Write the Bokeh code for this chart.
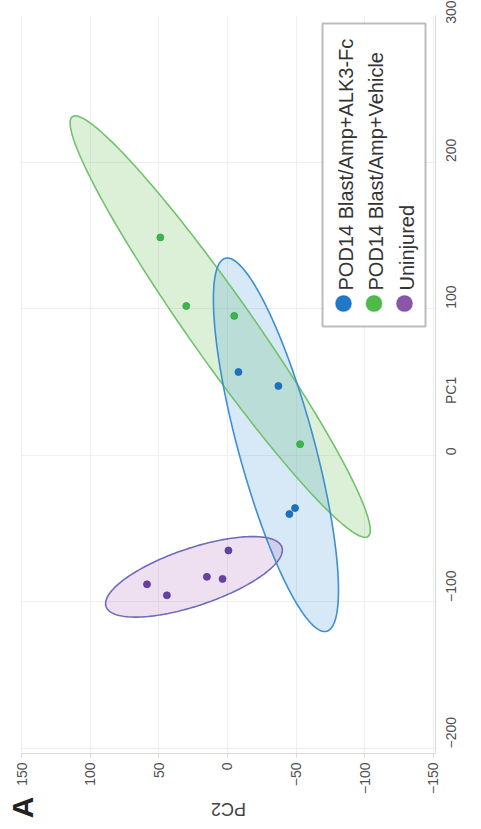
import math
import numpy as np
from bokeh.plotting import figure
from bokeh.layouts import column
from bokeh.models import Range1d, Label, BoxAnnotation, FixedTicker
from bokeh.embed import file_html
from bokeh.resources import INLINE

# ---------------- data ----------------
groups = ["POD14 Blast/Amp+ALK3-Fc", "POD14 Blast/Amp+Vehicle", "Uninjured"]

alk3_pc1 = [56.8, 47.3, -36.0, -40.1]
alk3_pc2 = [-8.0, -37.1, -49.2, -45.1]
veh_pc1 = [148.6, 101.8, 95.1, 7.6]
veh_pc2 = [48.9, 30.0, -4.9, -52.9]
uninj_pc1 = [-64.9, -88.0, -95.5, -82.9, -84.3]
uninj_pc2 = [-0.7, 58.6, 44.1, 15.0, 3.6]

# confidence ellipses: centre and two conjugate semi-axis vectors (PC1, PC2)
ell_center_pc1 = [7.2, 87.8, -82.9]
ell_center_pc2 = [-35.3, 5.3, 24.4]
ell_major_pc1 = [-127.2, -143.2, 20.3]
ell_major_pc2 = [-36.9, -107.6, -64.0]
ell_minor_pc1 = [6.7, 12.4, -18.5]
ell_minor_pc2 = [-26.7, -19.1, -6.8]

pc1_ticks = [-200, -100, 0, 100, 200, 300]
pc2_ticks = [150, 100, 50, 0, -50, -100, -150]
pc2_axis_bounds = (-151.5, 150)
pc1_title_pos = 35          # PC1 title sits in the tick-label column
x_title = "PC2"
y_title = "PC1"
panel_letter = "A"

# ---------------- styles ----------------
FONT = "Liberation Sans"
point_colors = ["#1a72c2", "#3cb54a", "#6a3f9e"]
point_lines = ["#1a64b0", "#35a444", "#4b3f9a"]
ell_fill = ["#4a9ad6", "#6cbf5e", "#b77fc0"]
ell_fill_alpha = [0.22, 0.24, 0.24]
ell_line = ["#3d8fd1", "#72c26c", "#6d6cbd"]
leg_fill = ["#1f78c8", "#4dbb48", "#8b56a8"]
leg_line = ["#2a5fae", "#3c9f46", "#4a4aa6"]

p = figure(width=481, height=797,
           x_range=Range1d(165.3, -151.5), y_range=Range1d(-203.4, 300),
           x_axis_location="below", y_axis_location="right",
           output_backend="svg", toolbar_location=None,
           min_border_left=0, min_border_top=15,
           min_border_right=46, min_border_bottom=37)
p.outline_line_color = None
p.background_fill_color = "white"
p.border_fill_color = "white"

for ax in (p.xaxis[0], p.yaxis[0]):
    ax.axis_line_color = "#d9d9d9"
    ax.major_tick_line_color = "#d9d9d9"
    ax.minor_tick_line_color = None
    ax.major_tick_out = 4
    ax.major_tick_in = 0
    ax.major_label_text_font = FONT
    ax.major_label_text_font_size = "14px"
    ax.major_label_text_color = "#505050"
    ax.major_label_orientation = math.pi / 2
    ax.major_label_standoff = 5
p.xaxis[0].ticker = FixedTicker(ticks=pc2_ticks)
p.xaxis[0].bounds = pc2_axis_bounds
p.yaxis[0].ticker = FixedTicker(ticks=sorted(pc1_ticks + [pc1_title_pos]))
p.yaxis[0].major_label_overrides = {pc1_title_pos: y_title}
p.yaxis[0].major_tick_line_color = None
p.yaxis[0].major_label_standoff = 12

p.xgrid.ticker = FixedTicker(ticks=pc2_ticks)
p.ygrid.ticker = FixedTicker(ticks=pc1_ticks)
p.xgrid.grid_line_color = "#efefef"
p.ygrid.grid_line_color = "#efefef"

# ellipses
t = np.linspace(0, 2 * np.pi, 240)
order = [1, 0, 2]
outlines = []
for i in order:
    xs = ell_center_pc2[i] + np.cos(t) * ell_major_pc2[i] + np.sin(t) * ell_minor_pc2[i]
    ys = ell_center_pc1[i] + np.cos(t) * ell_major_pc1[i] + np.sin(t) * ell_minor_pc1[i]
    p.patch(xs, ys, fill_color=ell_fill[i], fill_alpha=ell_fill_alpha[i], line_color=None)
    outlines.append((xs, ys, ell_line[i]))
for xs, ys, c in outlines:
    p.line(np.append(xs, xs[0]), np.append(ys, ys[0]), line_color=c, line_width=1.6)

# points
series = [(alk3_pc2, alk3_pc1), (veh_pc2, veh_pc1), (uninj_pc2, uninj_pc1)]
for i, (xs, ys) in enumerate(series):
    p.scatter(xs, ys, size=7, fill_color=point_colors[i], line_color=point_lines[i], line_width=0.8)

# blank margin left of the PC2 = 150 edge
p.add_layout(BoxAnnotation(left=0, right=20, bottom=0, top=745,
                           left_units="screen", right_units="screen",
                           bottom_units="screen", top_units="screen",
                           fill_color="white", fill_alpha=1.0, line_color=None))

# legend (rotated, drawn by hand; screen units relative to the frame)
p.add_layout(BoxAnnotation(left=322, right=425, bottom=427, top=730,
                           left_units="screen", right_units="screen",
                           bottom_units="screen", top_units="screen",
                           fill_color="white", fill_alpha=1.0,
                           line_color="#222222", line_width=2))
leg_x0, leg_dx, leg_cy, leg_r, leg_text_y = 343, 30.5, 450, 8, 463
for i, name in enumerate(groups):
    cx = leg_x0 + i * leg_dx
    p.add_layout(BoxAnnotation(left=cx - leg_r, right=cx + leg_r,
                               bottom=leg_cy - leg_r, top=leg_cy + leg_r,
                               left_units="screen", right_units="screen",
                               bottom_units="screen", top_units="screen",
                               border_radius=leg_r,
                               fill_color=leg_fill[i], fill_alpha=1.0,
                               line_color=leg_line[i], line_width=1.5))
    p.add_layout(Label(x=cx + 2, y=leg_text_y, x_units="screen", y_units="screen",
                       text=name, angle=math.pi / 2, text_align="left",
                       text_baseline="middle", text_font=FONT,
                       text_font_size="20px", text_color="#333333"))

# bottom strip holding the x-axis title and the panel letter
s = figure(width=481, height=32, x_range=Range1d(0, 1), y_range=Range1d(0, 1),
           output_backend="svg", toolbar_location=None,
           x_axis_location=None, y_axis_location=None,
           min_border_left=0, min_border_right=0, min_border_top=0, min_border_bottom=0)
s.outline_line_color = None
s.xgrid.visible = False
s.ygrid.visible = False
s.add_layout(Label(x=228, y=21, x_units="screen", y_units="screen", text=x_title,
                   angle=math.pi, text_align="center", text_baseline="middle",
                   text_font=FONT, text_font_size="18px", text_color="#444444"))
s.add_layout(Label(x=22, y=22, x_units="screen", y_units="screen", text=panel_letter,
                   angle=math.pi / 2, text_align="center", text_baseline="middle",
                   text_font=FONT, text_font_size="30px", text_font_style="bold",
                   text_color="#222222"))

layout = column(p, s, spacing=0)
open("out.html", "w").write(file_html(layout, INLINE))
